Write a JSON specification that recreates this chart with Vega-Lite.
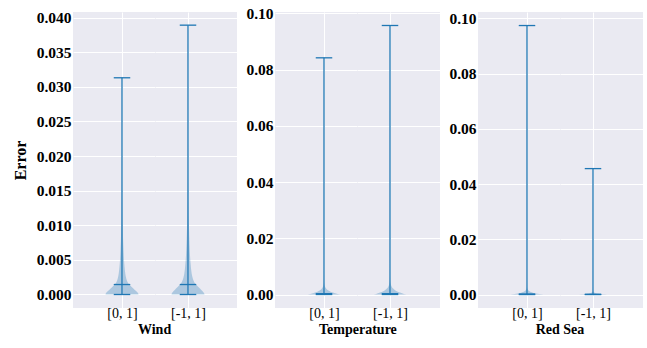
{
  "$schema": "https://vega.github.io/schema/vega-lite/v6.json",
  "background": "white",
  "padding": {"left": 12, "top": 6, "right": 0, "bottom": 0},
  "spacing": 8,
  "datasets": {
    "violin": [
      {"dataset": "Wind", "group": "[0, 1]", "err": 0, "density": 1.0},
      {"dataset": "Wind", "group": "[0, 1]", "err": 0.0002, "density": 0.97},
      {"dataset": "Wind", "group": "[0, 1]", "err": 0.0004, "density": 0.9},
      {"dataset": "Wind", "group": "[0, 1]", "err": 0.0007, "density": 0.76},
      {"dataset": "Wind", "group": "[0, 1]", "err": 0.001, "density": 0.62},
      {"dataset": "Wind", "group": "[0, 1]", "err": 0.0013, "density": 0.5},
      {"dataset": "Wind", "group": "[0, 1]", "err": 0.0016, "density": 0.39},
      {"dataset": "Wind", "group": "[0, 1]", "err": 0.002, "density": 0.3},
      {"dataset": "Wind", "group": "[0, 1]", "err": 0.0025, "density": 0.24},
      {"dataset": "Wind", "group": "[0, 1]", "err": 0.003, "density": 0.2},
      {"dataset": "Wind", "group": "[0, 1]", "err": 0.0036, "density": 0.17},
      {"dataset": "Wind", "group": "[0, 1]", "err": 0.0045, "density": 0.135},
      {"dataset": "Wind", "group": "[0, 1]", "err": 0.0055, "density": 0.11},
      {"dataset": "Wind", "group": "[0, 1]", "err": 0.0065, "density": 0.09},
      {"dataset": "Wind", "group": "[0, 1]", "err": 0.008, "density": 0.065},
      {"dataset": "Wind", "group": "[0, 1]", "err": 0.0095, "density": 0.05},
      {"dataset": "Wind", "group": "[0, 1]", "err": 0.011, "density": 0.038},
      {"dataset": "Wind", "group": "[0, 1]", "err": 0.013, "density": 0.026},
      {"dataset": "Wind", "group": "[0, 1]", "err": 0.015, "density": 0.016},
      {"dataset": "Wind", "group": "[0, 1]", "err": 0.018, "density": 0.009},
      {"dataset": "Wind", "group": "[0, 1]", "err": 0.022, "density": 0.004},
      {"dataset": "Wind", "group": "[0, 1]", "err": 0.026, "density": 0.002},
      {"dataset": "Wind", "group": "[0, 1]", "err": 0.0313, "density": 0},
      {"dataset": "Wind", "group": "[-1, 1]", "err": 0, "density": 1.0},
      {"dataset": "Wind", "group": "[-1, 1]", "err": 0.0002, "density": 0.97},
      {"dataset": "Wind", "group": "[-1, 1]", "err": 0.0004, "density": 0.91},
      {"dataset": "Wind", "group": "[-1, 1]", "err": 0.0007, "density": 0.79},
      {"dataset": "Wind", "group": "[-1, 1]", "err": 0.001, "density": 0.66},
      {"dataset": "Wind", "group": "[-1, 1]", "err": 0.0013, "density": 0.54},
      {"dataset": "Wind", "group": "[-1, 1]", "err": 0.0016, "density": 0.43},
      {"dataset": "Wind", "group": "[-1, 1]", "err": 0.002, "density": 0.34},
      {"dataset": "Wind", "group": "[-1, 1]", "err": 0.0025, "density": 0.27},
      {"dataset": "Wind", "group": "[-1, 1]", "err": 0.003, "density": 0.225},
      {"dataset": "Wind", "group": "[-1, 1]", "err": 0.0036, "density": 0.19},
      {"dataset": "Wind", "group": "[-1, 1]", "err": 0.0045, "density": 0.155},
      {"dataset": "Wind", "group": "[-1, 1]", "err": 0.0055, "density": 0.125},
      {"dataset": "Wind", "group": "[-1, 1]", "err": 0.0065, "density": 0.105},
      {"dataset": "Wind", "group": "[-1, 1]", "err": 0.008, "density": 0.08},
      {"dataset": "Wind", "group": "[-1, 1]", "err": 0.0095, "density": 0.062},
      {"dataset": "Wind", "group": "[-1, 1]", "err": 0.011, "density": 0.048},
      {"dataset": "Wind", "group": "[-1, 1]", "err": 0.013, "density": 0.034},
      {"dataset": "Wind", "group": "[-1, 1]", "err": 0.015, "density": 0.023},
      {"dataset": "Wind", "group": "[-1, 1]", "err": 0.018, "density": 0.013},
      {"dataset": "Wind", "group": "[-1, 1]", "err": 0.022, "density": 0.006},
      {"dataset": "Wind", "group": "[-1, 1]", "err": 0.027, "density": 0.003},
      {"dataset": "Wind", "group": "[-1, 1]", "err": 0.032, "density": 0.0015},
      {"dataset": "Wind", "group": "[-1, 1]", "err": 0.0389, "density": 0},
      {"dataset": "Temperature", "group": "[0, 1]", "err": 0, "density": 1.0},
      {"dataset": "Temperature", "group": "[0, 1]", "err": 0.0003, "density": 0.78},
      {"dataset": "Temperature", "group": "[0, 1]", "err": 0.0006, "density": 0.58},
      {"dataset": "Temperature", "group": "[0, 1]", "err": 0.001, "density": 0.4},
      {"dataset": "Temperature", "group": "[0, 1]", "err": 0.0014, "density": 0.27},
      {"dataset": "Temperature", "group": "[0, 1]", "err": 0.0018, "density": 0.18},
      {"dataset": "Temperature", "group": "[0, 1]", "err": 0.0023, "density": 0.11},
      {"dataset": "Temperature", "group": "[0, 1]", "err": 0.0028, "density": 0.065},
      {"dataset": "Temperature", "group": "[0, 1]", "err": 0.0033, "density": 0.035},
      {"dataset": "Temperature", "group": "[0, 1]", "err": 0.004, "density": 0.015},
      {"dataset": "Temperature", "group": "[0, 1]", "err": 0.005, "density": 0.006},
      {"dataset": "Temperature", "group": "[0, 1]", "err": 0.007, "density": 0.002},
      {"dataset": "Temperature", "group": "[0, 1]", "err": 0.01, "density": 0.0007},
      {"dataset": "Temperature", "group": "[0, 1]", "err": 0.02, "density": 0.0002},
      {"dataset": "Temperature", "group": "[0, 1]", "err": 0.0842, "density": 0},
      {"dataset": "Temperature", "group": "[-1, 1]", "err": 0, "density": 1.0},
      {"dataset": "Temperature", "group": "[-1, 1]", "err": 0.0003, "density": 0.8},
      {"dataset": "Temperature", "group": "[-1, 1]", "err": 0.0007, "density": 0.6},
      {"dataset": "Temperature", "group": "[-1, 1]", "err": 0.0011, "density": 0.43},
      {"dataset": "Temperature", "group": "[-1, 1]", "err": 0.0016, "density": 0.29},
      {"dataset": "Temperature", "group": "[-1, 1]", "err": 0.0021, "density": 0.19},
      {"dataset": "Temperature", "group": "[-1, 1]", "err": 0.0026, "density": 0.12},
      {"dataset": "Temperature", "group": "[-1, 1]", "err": 0.0032, "density": 0.07},
      {"dataset": "Temperature", "group": "[-1, 1]", "err": 0.0038, "density": 0.04},
      {"dataset": "Temperature", "group": "[-1, 1]", "err": 0.0045, "density": 0.018},
      {"dataset": "Temperature", "group": "[-1, 1]", "err": 0.0055, "density": 0.008},
      {"dataset": "Temperature", "group": "[-1, 1]", "err": 0.0075, "density": 0.003},
      {"dataset": "Temperature", "group": "[-1, 1]", "err": 0.011, "density": 0.001},
      {"dataset": "Temperature", "group": "[-1, 1]", "err": 0.02, "density": 0.0003},
      {"dataset": "Temperature", "group": "[-1, 1]", "err": 0.0957, "density": 0},
      {"dataset": "Red Sea", "group": "[0, 1]", "err": 0, "density": 1.0},
      {"dataset": "Red Sea", "group": "[0, 1]", "err": 0.0002, "density": 0.75},
      {"dataset": "Red Sea", "group": "[0, 1]", "err": 0.0004, "density": 0.55},
      {"dataset": "Red Sea", "group": "[0, 1]", "err": 0.0006, "density": 0.4},
      {"dataset": "Red Sea", "group": "[0, 1]", "err": 0.0009, "density": 0.25},
      {"dataset": "Red Sea", "group": "[0, 1]", "err": 0.0012, "density": 0.15},
      {"dataset": "Red Sea", "group": "[0, 1]", "err": 0.0015, "density": 0.09},
      {"dataset": "Red Sea", "group": "[0, 1]", "err": 0.0019, "density": 0.045},
      {"dataset": "Red Sea", "group": "[0, 1]", "err": 0.0025, "density": 0.018},
      {"dataset": "Red Sea", "group": "[0, 1]", "err": 0.0035, "density": 0.006},
      {"dataset": "Red Sea", "group": "[0, 1]", "err": 0.006, "density": 0.0015},
      {"dataset": "Red Sea", "group": "[0, 1]", "err": 0.015, "density": 0.0003},
      {"dataset": "Red Sea", "group": "[0, 1]", "err": 0.0974, "density": 0},
      {"dataset": "Red Sea", "group": "[-1, 1]", "err": 0, "density": 1.0},
      {"dataset": "Red Sea", "group": "[-1, 1]", "err": 0.0001, "density": 0.7},
      {"dataset": "Red Sea", "group": "[-1, 1]", "err": 0.0002, "density": 0.48},
      {"dataset": "Red Sea", "group": "[-1, 1]", "err": 0.0003, "density": 0.33},
      {"dataset": "Red Sea", "group": "[-1, 1]", "err": 0.0005, "density": 0.16},
      {"dataset": "Red Sea", "group": "[-1, 1]", "err": 0.0007, "density": 0.07},
      {"dataset": "Red Sea", "group": "[-1, 1]", "err": 0.001, "density": 0.025},
      {"dataset": "Red Sea", "group": "[-1, 1]", "err": 0.0015, "density": 0.007},
      {"dataset": "Red Sea", "group": "[-1, 1]", "err": 0.003, "density": 0.001},
      {"dataset": "Red Sea", "group": "[-1, 1]", "err": 0.0456, "density": 0}
    ],
    "stats": [
      {"dataset": "Wind", "group": "[0, 1]", "min": 0, "median": 0.00144, "max": 0.0313},
      {"dataset": "Wind", "group": "[-1, 1]", "min": 0, "median": 0.00144, "max": 0.0389},
      {"dataset": "Temperature", "group": "[0, 1]", "min": 0, "median": 0.0003, "max": 0.0842},
      {"dataset": "Temperature", "group": "[-1, 1]", "min": 0, "median": 0.0003, "max": 0.0957},
      {"dataset": "Red Sea", "group": "[0, 1]", "min": 0, "median": 0.0002, "max": 0.0974},
      {"dataset": "Red Sea", "group": "[-1, 1]", "min": 0, "median": 0.0001, "max": 0.0456}
    ]
  },
  "config": {
    "font": "Liberation Serif",
    "view": {"fill": "#eaeaf2", "stroke": null},
    "axis": {"domain": false, "ticks": false, "grid": true, "gridColor": "#ffffff", "gridWidth": 1, "gridOpacity": 1, "labelFont": "Liberation Serif", "labelColor": "#000000", "titleFont": "Liberation Serif", "titleColor": "#000000"},
    "axisY": {"labelFont": "Liberation Serif", "labelFontSize": 15.5, "labelFontWeight": "bold", "labelPadding": 2, "titleFont": "Liberation Serif", "titleFontSize": 16, "titleFontWeight": "bold", "titlePadding": 8},
    "axisX": {"labelFont": "Liberation Serif", "labelFontSize": 14, "labelPadding": -2},
    "title": {"font": "Liberation Serif", "fontSize": 14, "fontWeight": "bold", "color": "#000000", "offset": 3}
  },
  "hconcat": [
    {
      "title": {"text": "Wind", "orient": "bottom", "anchor": "middle", "dx": 30},
      "spacing": 0,
      "hconcat": [
        {
          "width": 82, "height": 296,
          "layer": [
            {
              "data": {"name": "violin"},
              "transform": [{"filter": "datum.dataset === 'Wind' && datum.group === '[0, 1]'"}],
              "mark": {"type": "area", "orient": "horizontal", "interpolate": "monotone", "color": "#1f77b4", "opacity": 0.3},
              "encoding": {
                "y": {"field": "err", "type": "quantitative", "scale": {"domain": [-0.00195, 0.0408], "nice": false, "zero": false}, "axis": {"values": [0, 0.005, 0.01, 0.015, 0.02, 0.025, 0.03, 0.035, 0.04], "format": ".3f", "title": "Error"}},
                "x": {"field": "density", "type": "quantitative", "stack": "center", "scale": {"domain": [-0.985, 1.5], "nice": false, "zero": false}, "axis": {"values": [0.5], "labelExpr": "'[0, 1]'", "title": null}}
              }
            },
            {
              "data": {"name": "stats"},
              "transform": [{"filter": "datum.dataset === 'Wind' && datum.group === '[0, 1]'"}],
              "mark": {"type": "rule", "color": "#1f77b4", "strokeWidth": 1.3},
              "encoding": {
                "x": {"datum": 0.5, "type": "quantitative", "scale": {"domain": [-0.985, 1.5], "nice": false, "zero": false}, "axis": {"values": [0.5], "labelExpr": "'[0, 1]'", "title": null}},
                "y": {"field": "min", "type": "quantitative", "scale": {"domain": [-0.00195, 0.0408], "nice": false, "zero": false}, "axis": {"values": [0, 0.005, 0.01, 0.015, 0.02, 0.025, 0.03, 0.035, 0.04], "format": ".3f", "title": "Error"}},
                "y2": {"field": "max"}
              }
            },
            {
              "data": {"name": "stats"},
              "transform": [{"filter": "datum.dataset === 'Wind' && datum.group === '[0, 1]'"}, {"fold": ["min", "median", "max"], "as": ["stat", "val"]}],
              "mark": {"type": "rule", "color": "#1f77b4", "strokeWidth": 1.3},
              "encoding": {
                "x": {"datum": 0.25, "type": "quantitative", "scale": {"domain": [-0.985, 1.5], "nice": false, "zero": false}, "axis": {"values": [0.5], "labelExpr": "'[0, 1]'", "title": null}},
                "x2": {"datum": 0.75},
                "y": {"field": "val", "type": "quantitative", "scale": {"domain": [-0.00195, 0.0408], "nice": false, "zero": false}, "axis": {"values": [0, 0.005, 0.01, 0.015, 0.02, 0.025, 0.03, 0.035, 0.04], "format": ".3f", "title": "Error"}}
              }
            }
          ]
        },
        {
          "width": 82, "height": 296,
          "layer": [
            {
              "data": {"name": "violin"},
              "transform": [{"filter": "datum.dataset === 'Wind' && datum.group === '[-1, 1]'"}],
              "mark": {"type": "area", "orient": "horizontal", "interpolate": "monotone", "color": "#1f77b4", "opacity": 0.3},
              "encoding": {
                "y": {"field": "err", "type": "quantitative", "scale": {"domain": [-0.00195, 0.0408], "nice": false, "zero": false}, "axis": {"values": [0, 0.005, 0.01, 0.015, 0.02, 0.025, 0.03, 0.035, 0.04], "labels": false, "title": null}},
                "x": {"field": "density", "type": "quantitative", "stack": "center", "scale": {"domain": [-0.5, 1.985], "nice": false, "zero": false}, "axis": {"values": [0.5], "labelExpr": "'[-1, 1]'", "title": null}}
              }
            },
            {
              "data": {"name": "stats"},
              "transform": [{"filter": "datum.dataset === 'Wind' && datum.group === '[-1, 1]'"}],
              "mark": {"type": "rule", "color": "#1f77b4", "strokeWidth": 1.3},
              "encoding": {
                "x": {"datum": 0.5, "type": "quantitative", "scale": {"domain": [-0.5, 1.985], "nice": false, "zero": false}, "axis": {"values": [0.5], "labelExpr": "'[-1, 1]'", "title": null}},
                "y": {"field": "min", "type": "quantitative", "scale": {"domain": [-0.00195, 0.0408], "nice": false, "zero": false}, "axis": {"values": [0, 0.005, 0.01, 0.015, 0.02, 0.025, 0.03, 0.035, 0.04], "labels": false, "title": null}},
                "y2": {"field": "max"}
              }
            },
            {
              "data": {"name": "stats"},
              "transform": [{"filter": "datum.dataset === 'Wind' && datum.group === '[-1, 1]'"}, {"fold": ["min", "median", "max"], "as": ["stat", "val"]}],
              "mark": {"type": "rule", "color": "#1f77b4", "strokeWidth": 1.3},
              "encoding": {
                "x": {"datum": 0.25, "type": "quantitative", "scale": {"domain": [-0.5, 1.985], "nice": false, "zero": false}, "axis": {"values": [0.5], "labelExpr": "'[-1, 1]'", "title": null}},
                "x2": {"datum": 0.75},
                "y": {"field": "val", "type": "quantitative", "scale": {"domain": [-0.00195, 0.0408], "nice": false, "zero": false}, "axis": {"values": [0, 0.005, 0.01, 0.015, 0.02, 0.025, 0.03, 0.035, 0.04], "labels": false, "title": null}}
              }
            }
          ]
        }
      ]
    },
    {
      "title": {"text": "Temperature", "orient": "bottom", "anchor": "middle", "dx": 15},
      "spacing": 0,
      "hconcat": [
        {
          "width": 82, "height": 296,
          "layer": [
            {
              "data": {"name": "violin"},
              "transform": [{"filter": "datum.dataset === 'Temperature' && datum.group === '[0, 1]'"}],
              "mark": {"type": "area", "orient": "horizontal", "interpolate": "monotone", "color": "#1f77b4", "opacity": 0.3},
              "encoding": {
                "y": {"field": "err", "type": "quantitative", "scale": {"domain": [-0.0048, 0.1005], "nice": false, "zero": false}, "axis": {"values": [0, 0.02, 0.04, 0.06, 0.08, 0.1], "format": ".2f", "title": null}},
                "x": {"field": "density", "type": "quantitative", "stack": "center", "scale": {"domain": [-0.985, 1.5], "nice": false, "zero": false}, "axis": {"values": [0.5], "labelExpr": "'[0, 1]'", "title": null}}
              }
            },
            {
              "data": {"name": "stats"},
              "transform": [{"filter": "datum.dataset === 'Temperature' && datum.group === '[0, 1]'"}],
              "mark": {"type": "rule", "color": "#1f77b4", "strokeWidth": 1.3},
              "encoding": {
                "x": {"datum": 0.5, "type": "quantitative", "scale": {"domain": [-0.985, 1.5], "nice": false, "zero": false}, "axis": {"values": [0.5], "labelExpr": "'[0, 1]'", "title": null}},
                "y": {"field": "min", "type": "quantitative", "scale": {"domain": [-0.0048, 0.1005], "nice": false, "zero": false}, "axis": {"values": [0, 0.02, 0.04, 0.06, 0.08, 0.1], "format": ".2f", "title": null}},
                "y2": {"field": "max"}
              }
            },
            {
              "data": {"name": "stats"},
              "transform": [{"filter": "datum.dataset === 'Temperature' && datum.group === '[0, 1]'"}, {"fold": ["min", "median", "max"], "as": ["stat", "val"]}],
              "mark": {"type": "rule", "color": "#1f77b4", "strokeWidth": 1.3},
              "encoding": {
                "x": {"datum": 0.25, "type": "quantitative", "scale": {"domain": [-0.985, 1.5], "nice": false, "zero": false}, "axis": {"values": [0.5], "labelExpr": "'[0, 1]'", "title": null}},
                "x2": {"datum": 0.75},
                "y": {"field": "val", "type": "quantitative", "scale": {"domain": [-0.0048, 0.1005], "nice": false, "zero": false}, "axis": {"values": [0, 0.02, 0.04, 0.06, 0.08, 0.1], "format": ".2f", "title": null}}
              }
            }
          ]
        },
        {
          "width": 83, "height": 296,
          "layer": [
            {
              "data": {"name": "violin"},
              "transform": [{"filter": "datum.dataset === 'Temperature' && datum.group === '[-1, 1]'"}],
              "mark": {"type": "area", "orient": "horizontal", "interpolate": "monotone", "color": "#1f77b4", "opacity": 0.3},
              "encoding": {
                "y": {"field": "err", "type": "quantitative", "scale": {"domain": [-0.0048, 0.1005], "nice": false, "zero": false}, "axis": {"values": [0, 0.02, 0.04, 0.06, 0.08, 0.1], "labels": false, "title": null}},
                "x": {"field": "density", "type": "quantitative", "stack": "center", "scale": {"domain": [-0.5, 2.015], "nice": false, "zero": false}, "axis": {"values": [0.5], "labelExpr": "'[-1, 1]'", "title": null}}
              }
            },
            {
              "data": {"name": "stats"},
              "transform": [{"filter": "datum.dataset === 'Temperature' && datum.group === '[-1, 1]'"}],
              "mark": {"type": "rule", "color": "#1f77b4", "strokeWidth": 1.3},
              "encoding": {
                "x": {"datum": 0.5, "type": "quantitative", "scale": {"domain": [-0.5, 2.015], "nice": false, "zero": false}, "axis": {"values": [0.5], "labelExpr": "'[-1, 1]'", "title": null}},
                "y": {"field": "min", "type": "quantitative", "scale": {"domain": [-0.0048, 0.1005], "nice": false, "zero": false}, "axis": {"values": [0, 0.02, 0.04, 0.06, 0.08, 0.1], "labels": false, "title": null}},
                "y2": {"field": "max"}
              }
            },
            {
              "data": {"name": "stats"},
              "transform": [{"filter": "datum.dataset === 'Temperature' && datum.group === '[-1, 1]'"}, {"fold": ["min", "median", "max"], "as": ["stat", "val"]}],
              "mark": {"type": "rule", "color": "#1f77b4", "strokeWidth": 1.3},
              "encoding": {
                "x": {"datum": 0.25, "type": "quantitative", "scale": {"domain": [-0.5, 2.015], "nice": false, "zero": false}, "axis": {"values": [0.5], "labelExpr": "'[-1, 1]'", "title": null}},
                "x2": {"datum": 0.75},
                "y": {"field": "val", "type": "quantitative", "scale": {"domain": [-0.0048, 0.1005], "nice": false, "zero": false}, "axis": {"values": [0, 0.02, 0.04, 0.06, 0.08, 0.1], "labels": false, "title": null}}
              }
            }
          ]
        }
      ]
    },
    {
      "title": {"text": "Red Sea", "orient": "bottom", "anchor": "middle", "dx": 14},
      "spacing": 0,
      "hconcat": [
        {
          "width": 82, "height": 296,
          "layer": [
            {
              "data": {"name": "violin"},
              "transform": [{"filter": "datum.dataset === 'Red Sea' && datum.group === '[0, 1]'"}],
              "mark": {"type": "area", "orient": "horizontal", "interpolate": "monotone", "color": "#1f77b4", "opacity": 0.3},
              "encoding": {
                "y": {"field": "err", "type": "quantitative", "scale": {"domain": [-0.00487, 0.1023], "nice": false, "zero": false}, "axis": {"values": [0, 0.02, 0.04, 0.06, 0.08, 0.1], "format": ".2f", "title": null}},
                "x": {"field": "density", "type": "quantitative", "stack": "center", "scale": {"domain": [-0.985, 1.5], "nice": false, "zero": false}, "axis": {"values": [0.5], "labelExpr": "'[0, 1]'", "title": null}}
              }
            },
            {
              "data": {"name": "stats"},
              "transform": [{"filter": "datum.dataset === 'Red Sea' && datum.group === '[0, 1]'"}],
              "mark": {"type": "rule", "color": "#1f77b4", "strokeWidth": 1.3},
              "encoding": {
                "x": {"datum": 0.5, "type": "quantitative", "scale": {"domain": [-0.985, 1.5], "nice": false, "zero": false}, "axis": {"values": [0.5], "labelExpr": "'[0, 1]'", "title": null}},
                "y": {"field": "min", "type": "quantitative", "scale": {"domain": [-0.00487, 0.1023], "nice": false, "zero": false}, "axis": {"values": [0, 0.02, 0.04, 0.06, 0.08, 0.1], "format": ".2f", "title": null}},
                "y2": {"field": "max"}
              }
            },
            {
              "data": {"name": "stats"},
              "transform": [{"filter": "datum.dataset === 'Red Sea' && datum.group === '[0, 1]'"}, {"fold": ["min", "median", "max"], "as": ["stat", "val"]}],
              "mark": {"type": "rule", "color": "#1f77b4", "strokeWidth": 1.3},
              "encoding": {
                "x": {"datum": 0.25, "type": "quantitative", "scale": {"domain": [-0.985, 1.5], "nice": false, "zero": false}, "axis": {"values": [0.5], "labelExpr": "'[0, 1]'", "title": null}},
                "x2": {"datum": 0.75},
                "y": {"field": "val", "type": "quantitative", "scale": {"domain": [-0.00487, 0.1023], "nice": false, "zero": false}, "axis": {"values": [0, 0.02, 0.04, 0.06, 0.08, 0.1], "format": ".2f", "title": null}}
              }
            }
          ]
        },
        {
          "width": 83, "height": 296,
          "layer": [
            {
              "data": {"name": "violin"},
              "transform": [{"filter": "datum.dataset === 'Red Sea' && datum.group === '[-1, 1]'"}],
              "mark": {"type": "area", "orient": "horizontal", "interpolate": "monotone", "color": "#1f77b4", "opacity": 0.3},
              "encoding": {
                "y": {"field": "err", "type": "quantitative", "scale": {"domain": [-0.00487, 0.1023], "nice": false, "zero": false}, "axis": {"values": [0, 0.02, 0.04, 0.06, 0.08, 0.1], "labels": false, "title": null}},
                "x": {"field": "density", "type": "quantitative", "stack": "center", "scale": {"domain": [-0.5, 2.015], "nice": false, "zero": false}, "axis": {"values": [0.5], "labelExpr": "'[-1, 1]'", "title": null}}
              }
            },
            {
              "data": {"name": "stats"},
              "transform": [{"filter": "datum.dataset === 'Red Sea' && datum.group === '[-1, 1]'"}],
              "mark": {"type": "rule", "color": "#1f77b4", "strokeWidth": 1.3},
              "encoding": {
                "x": {"datum": 0.5, "type": "quantitative", "scale": {"domain": [-0.5, 2.015], "nice": false, "zero": false}, "axis": {"values": [0.5], "labelExpr": "'[-1, 1]'", "title": null}},
                "y": {"field": "min", "type": "quantitative", "scale": {"domain": [-0.00487, 0.1023], "nice": false, "zero": false}, "axis": {"values": [0, 0.02, 0.04, 0.06, 0.08, 0.1], "labels": false, "title": null}},
                "y2": {"field": "max"}
              }
            },
            {
              "data": {"name": "stats"},
              "transform": [{"filter": "datum.dataset === 'Red Sea' && datum.group === '[-1, 1]'"}, {"fold": ["min", "median", "max"], "as": ["stat", "val"]}],
              "mark": {"type": "rule", "color": "#1f77b4", "strokeWidth": 1.3},
              "encoding": {
                "x": {"datum": 0.25, "type": "quantitative", "scale": {"domain": [-0.5, 2.015], "nice": false, "zero": false}, "axis": {"values": [0.5], "labelExpr": "'[-1, 1]'", "title": null}},
                "x2": {"datum": 0.75},
                "y": {"field": "val", "type": "quantitative", "scale": {"domain": [-0.00487, 0.1023], "nice": false, "zero": false}, "axis": {"values": [0, 0.02, 0.04, 0.06, 0.08, 0.1], "labels": false, "title": null}}
              }
            }
          ]
        }
      ]
    }
  ]
}
